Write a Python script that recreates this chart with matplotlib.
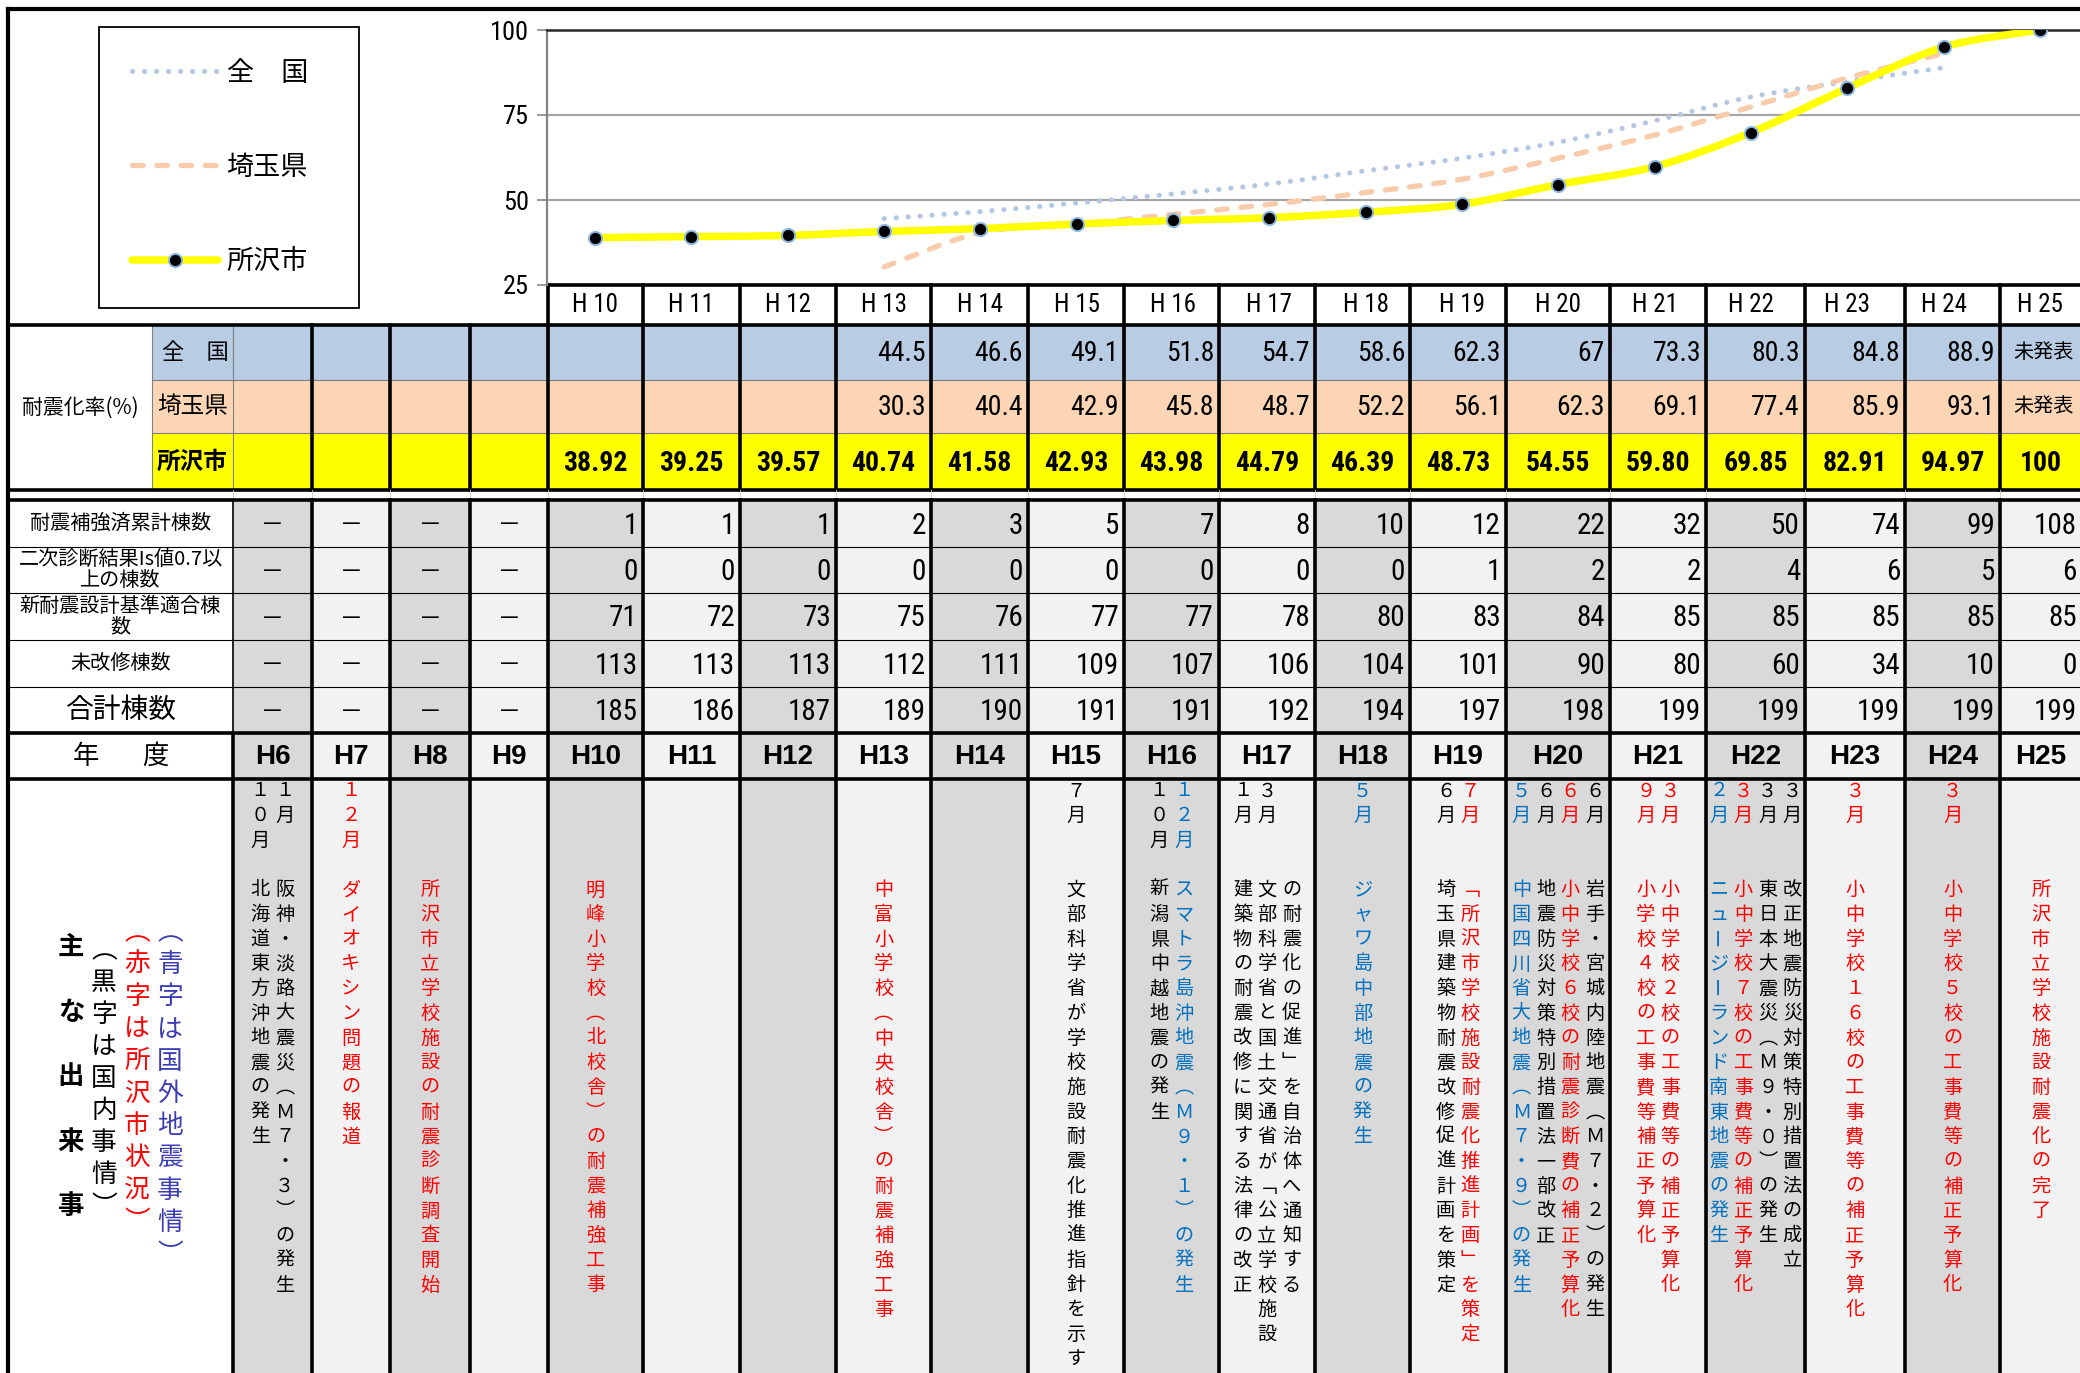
import numpy as np
import matplotlib
matplotlib.use('Agg')
import matplotlib.pyplot as plt
from matplotlib import font_manager as fm
from matplotlib.lines import Line2D
from matplotlib.path import Path
from matplotlib.patches import PathPatch, Rectangle

# ---------------- data ----------------
years = ['H6', 'H7', 'H8', 'H9', 'H10', 'H11', 'H12', 'H13', 'H14', 'H15',
         'H16', 'H17', 'H18', 'H19', 'H20', 'H21', 'H22', 'H23', 'H24', 'H25']
chart_years = ['H 10', 'H 11', 'H 12', 'H 13', 'H 14', 'H 15', 'H 16', 'H 17',
               'H 18', 'H 19', 'H 20', 'H 21', 'H 22', 'H 23', 'H 24', 'H 25']
tokorozawa = [38.92, 39.25, 39.57, 40.74, 41.58, 42.93, 43.98, 44.79,
              46.39, 48.73, 54.55, 59.80, 69.85, 82.91, 94.97, 100]
pref_years = ['H 13', 'H 14', 'H 15', 'H 16', 'H 17', 'H 18', 'H 19', 'H 20',
              'H 21', 'H 22', 'H 23', 'H 24']
zenkoku = [44.5, 46.6, 49.1, 51.8, 54.7, 58.6, 62.3, 67, 73.3, 80.3, 84.8, 88.9]
saitama = [30.3, 40.4, 42.9, 45.8, 48.7, 52.2, 56.1, 62.3, 69.1, 77.4, 85.9, 93.1]
unpublished = '未発表'

retrofit = [1, 1, 1, 2, 3, 5, 7, 8, 10, 12, 22, 32, 50, 74, 99, 108]
is_ok = [0, 0, 0, 0, 0, 0, 0, 0, 0, 1, 2, 2, 4, 6, 5, 6]
new_std = [71, 72, 73, 75, 76, 77, 77, 78, 80, 83, 84, 85, 85, 85, 85, 85]
unrepaired = [113, 113, 113, 112, 111, 109, 107, 106, 104, 101, 90, 80, 60, 34, 10, 0]
total = [185, 186, 187, 189, 190, 191, 191, 192, 194, 197, 198, 199, 199, 199, 199, 199]
row_labels = ['耐震補強済累計棟数', '二次診断結果Is値0.7以\n上の棟数',
              '新耐震設計基準適合棟\n数', '未改修棟数', '合計棟数']
series_labels = ['全　国', '埼玉県', '所沢市']

events = {
    'H6': [('k', '１０月', '北海道東方沖地震の発生'),
           ('k', '１月', '阪神・淡路大震災（Ｍ７．３）の発生')],
    'H7': [('r', '１２月', 'ダイオキシン問題の報道')],
    'H8': [('r', '', '所沢市立学校施設の耐震診断調査開始')],
    'H10': [('r', '', '明峰小学校（北校舎）の耐震補強工事')],
    'H13': [('r', '', '中富小学校（中央校舎）の耐震補強工事')],
    'H15': [('k', '７月', '文部科学省が学校施設耐震化推進指針を示す')],
    'H16': [('k', '１０月', '新潟県中越地震の発生'),
            ('b', '１２月', 'スマトラ島沖地震（Ｍ９．１）の発生')],
    'H17': [('k', '１月', '建築物の耐震改修に関する法律の改正'),
            ('k', '３月', '文部科学省と国土交通省が「公立学校施設'),
            ('k', '', 'の耐震化の促進」を自治体へ通知する')],
    'H18': [('b', '５月', 'ジャワ島中部地震の発生')],
    'H19': [('k', '６月', '埼玉県建築物耐震改修促進計画を策定'),
            ('r', '７月', '「所沢市学校施設耐震化推進計画」を策定')],
    'H20': [('b', '５月', '中国四川省大地震（Ｍ７．９）の発生'),
            ('k', '６月', '地震防災対策特別措置法一部改正'),
            ('r', '６月', '小中学校６校の耐震診断費の補正予算化'),
            ('k', '６月', '岩手・宮城内陸地震（Ｍ７．２）の発生')],
    'H21': [('r', '９月', '小学校４校の工事費等補正予算化'),
            ('r', '３月', '小中学校２校の工事費等の補正予算化')],
    'H22': [('b', '２月', 'ニュージーランド南東地震の発生'),
            ('r', '３月', '小中学校７校の工事費等の補正予算化'),
            ('k', '３月', '東日本大震災（Ｍ９．０）の発生'),
            ('k', '３月', '改正地震防災対策特別措置法の成立')],
    'H23': [('r', '３月', '小中学校１６校の工事費等の補正予算化')],
    'H24': [('r', '３月', '小中学校５校の工事費等の補正予算化')],
    'H25': [('r', '', '所沢市立学校施設耐震化の完了')],
}

# ---------------- fonts ----------------
def has_font(name):
    try:
        fm.findfont(fm.FontProperties(family=name), fallback_to_default=False)
        return True
    except Exception:
        return False

narrow_name = 'Liberation Sans'
for cand in ['Liberation Sans Narrow', 'Roboto Condensed', 'DejaVu Sans Condensed']:
    if has_font(cand):
        narrow_name = cand
        break
JP = ['Noto Sans CJK JP', 'DejaVu Sans']
NARROW = [narrow_name, 'Noto Sans CJK JP']
ARIAL = ['Liberation Sans', 'DejaVu Sans']

# ---------------- colours ----------------
C_ZEN = '#B8CCE4'
C_SAI = '#FCD5B5'
C_TOK = '#FFFF00'
C_ZEN_LINE = '#B3C7E3'
C_SAI_LINE = '#F9CBAA'
GRAY = '#D9D9D9'
LIGHT = '#F2F2F2'
EVCOL = {'k': '#000000', 'r': '#FF0000', 'b': '#0070C0'}

# ---------------- layout (pixels) ----------------
W, H = 2080, 1373
XL = 8
X_LAB = 152
XB = [233, 312, 390, 470, 548, 643, 740, 836, 931, 1028, 1124, 1219, 1315,
      1410, 1506, 1610, 1706, 1805, 1905, 2000, 2082]
Y_TOP = 9
Y_CH_TOP, Y_CH_BOT = 30, 285
Y_HDR = 325
Y_UP = [325, 380, 433, 490]
Y_LO = [500, 547, 593, 640, 687, 733]
Y_YR = 779
THICK = 2.6
THIN = 0.8

fig = plt.figure(figsize=(W / 100, H / 100), dpi=100)
fig.patch.set_facecolor('white')
ax0 = fig.add_axes([0, 0, 1, 1])
ax0.set_xlim(0, W)
ax0.set_ylim(H, 0)
ax0.axis('off')


def rect(x0, y0, x1, y1, color):
    ax0.add_patch(Rectangle((x0, y0), x1 - x0, y1 - y0, facecolor=color,
                            edgecolor='none', zorder=1))


def hline(y, x0, x1, lw, color='black'):
    ax0.add_line(Line2D([x0, x1], [y, y], lw=lw, color=color, zorder=3,
                        solid_capstyle='projecting'))


def vline(x, y0, y1, lw, color='black'):
    ax0.add_line(Line2D([x, x], [y0, y1], lw=lw, color=color, zorder=3,
                        solid_capstyle='projecting'))


ncol = len(years)
cx = [(XB[i] + XB[i + 1]) / 2 for i in range(ncol)]
first_data = years.index('H10')

# ---------- upper table (rates) ----------
rect(X_LAB, Y_UP[0], W + 20, Y_UP[1], C_ZEN)
rect(X_LAB, Y_UP[1], W + 20, Y_UP[2], C_SAI)
rect(X_LAB, Y_UP[2], W + 20, Y_UP[3], C_TOK)
ax0.text((XL + X_LAB) / 2, (Y_UP[0] + Y_UP[3]) / 2, '耐震化率(%)', fontsize=15,
         family=JP, ha='center', va='center', zorder=5)
ax0.text(162, (Y_UP[0] + Y_UP[1]) / 2, series_labels[0], fontsize=16, family=JP,
         ha='left', va='center', zorder=5)
ax0.text(157, (Y_UP[1] + Y_UP[2]) / 2, series_labels[1], fontsize=17, family=JP,
         ha='left', va='center', zorder=5)
ax0.text(157, (Y_UP[2] + Y_UP[3]) / 2, series_labels[2], fontsize=17, family=JP,
         fontweight='bold', ha='left', va='center', zorder=5)

zen_start = years.index('H13')
for k, v in enumerate(zenkoku):
    i = zen_start + k
    ax0.text(XB[i + 1] - 5, (Y_UP[0] + Y_UP[1]) / 2 + 1, f'{v:g}', fontsize=20,
             family=NARROW, ha='right', va='center', zorder=5)
for k, v in enumerate(saitama):
    i = zen_start + k
    ax0.text(XB[i + 1] - 5, (Y_UP[1] + Y_UP[2]) / 2 + 1, f'{v:g}', fontsize=20,
             family=NARROW, ha='right', va='center', zorder=5)
for yy in [(Y_UP[0] + Y_UP[1]) / 2, (Y_UP[1] + Y_UP[2]) / 2]:
    ax0.text(cx[-1] + 3, yy, unpublished, fontsize=14.5, family=JP, ha='center',
             va='center', zorder=5)
for k, v in enumerate(tokorozawa):
    i = first_data + k
    s = '100' if v == 100 else f'{v:.2f}'
    ax0.text(cx[i], (Y_UP[2] + Y_UP[3]) / 2 + 2, s, fontsize=20, family=NARROW,
             fontweight='bold', ha='center', va='center', zorder=5)

hline(Y_UP[1], X_LAB, W + 20, THIN, '#7F7F7F')
hline(Y_UP[2], X_LAB, W + 20, THIN, '#7F7F7F')
vline(X_LAB, Y_UP[0], Y_UP[3], THIN, '#7F7F7F')
vline(XB[0], Y_UP[0], Y_UP[3], THIN, '#7F7F7F')
for x in XB[1:-1]:
    vline(x, Y_UP[0], Y_UP[3], THICK)
hline(Y_UP[0], XL, W + 20, THICK)
hline(Y_UP[3], XL, W + 20, THICK)

# chart header row borders
for x in XB[first_data:-1]:
    vline(x, Y_CH_BOT, Y_HDR, THICK)
hline(Y_CH_BOT, XB[first_data], W + 20, THICK)

# faint gridlines in the gap
for x in XB[:-1]:
    vline(x, Y_UP[3], Y_LO[0], 0.6, '#D0D0D0')

# ---------- lower table (counts) ----------
rows = [retrofit, is_ok, new_std, unrepaired, total]
for i in range(ncol):
    col = GRAY if i % 2 == 0 else LIGHT
    rect(XB[i], Y_LO[0], XB[i + 1] if i < ncol - 1 else W + 20, H + 5, col)
for r, (lab, vals) in enumerate(zip(row_labels, rows)):
    yc = (Y_LO[r] + Y_LO[r + 1]) / 2
    fs = 20 if r == 4 else 14.5
    ax0.text((XL + XB[0]) / 2, yc, lab, fontsize=fs, family=JP, ha='center',
             va='center', linespacing=1.0, zorder=5)
    for i in range(first_data):
        ax0.text(cx[i], yc, '—', fontsize=15, family=JP, ha='center',
                 va='center', zorder=5)
    for k, v in enumerate(vals):
        i = first_data + k
        ax0.text(XB[i + 1] - 5, yc + 2, f'{v}', fontsize=21, family=NARROW,
                 ha='right', va='center', zorder=5)
for y in Y_LO[1:-1]:
    hline(y, XL, W + 20, THIN)
vline(XB[0], Y_LO[0], Y_LO[-1], 1.2)
for x in XB[1:-1]:
    vline(x, Y_LO[0], Y_LO[-1], THICK)
hline(Y_LO[0], XL, W + 20, THICK)
hline(Y_LO[-1], XL, W + 20, THICK)

# ---------- year row ----------
ax0.text(86, (Y_LO[-1] + Y_YR) / 2, '年', fontsize=19, family=JP, ha='center',
         va='center', zorder=5)
ax0.text(155, (Y_LO[-1] + Y_YR) / 2, '度', fontsize=19, family=JP, ha='center',
         va='center', zorder=5)
for i, y in enumerate(years):
    ax0.text(cx[i], (Y_LO[-1] + Y_YR) / 2 + 1, y, fontsize=20, family=ARIAL,
             fontweight='bold', ha='center', va='center', zorder=5)
hline(Y_YR, XL, W + 20, THICK)
for x in XB[:-1]:
    vline(x, Y_LO[-1], H + 5, THICK)

# ---------- events ----------
ROT = set('ー')
# vertical-writing glyph forms for punctuation
SUB = {'．': '・', '（': '︵', '）': '︶', '「': '﹁', '」': '﹂'}
PITCH_Y = 24.7
PITCH_X = 24.5


def vtext(x, y0, s, color, size, pitch, weight='normal'):
    em = size * 100 / 72
    for j, ch in enumerate(s):
        if ch in ' 　':
            continue
        rot = ch in ROT
        ax0.text(x - (0.21 * em if rot else 0), y0 + j * pitch,
                 SUB.get(ch, ch), color=color, fontsize=size,
                 family=JP, fontweight=weight, ha='center', va='center',
                 rotation=-90 if rot else 0, zorder=5)


for yname, cols in events.items():
    i = years.index(yname)
    n = len(cols)
    for j, (c, month, text) in enumerate(cols):
        x = cx[i] + (j - (n - 1) / 2) * PITCH_X
        vtext(x, 791, month, EVCOL[c], 13.8, PITCH_Y)
        vtext(x, 791 + 4 * PITCH_Y, text, EVCOL[c], 13.8, PITCH_Y)

vtext(71, 947, '主　な　出　来　事', 'black', 19, 32.5, 'bold')
vtext(104, 951, '（黒字は国内事情）', 'black', 18.5, 32.0)
vtext(137, 933, '（赤字は所沢市状況）', '#FF0000', 18.5, 32.1)
vtext(170, 933, '（青字は国外地震事情）', '#3C3CB4', 18.5, 32.2)

# ---------- outer frame ----------
hline(Y_TOP, XL, W + 20, THICK + 0.4)
vline(XL, Y_TOP, H + 5, THICK + 0.4)

# ---------------- chart ----------------
ax_l, ax_r = 547, 2088
ax = fig.add_axes([ax_l / W, (H - Y_CH_BOT) / H, (ax_r - ax_l) / W,
                   (Y_CH_BOT - Y_CH_TOP) / H])
ax.set_facecolor('none')
ax.set_zorder(2)
ax.set_xlim(-0.5, len(chart_years) - 0.5)
ax.set_ylim(25, 100)
ax.set_yticks([25, 50, 75, 100])
ax.set_xticks(range(len(chart_years)))
ax.set_xticklabels(chart_years, family=NARROW, fontsize=18)
ax.tick_params(axis='x', length=0, pad=6)
ax.tick_params(axis='y', length=7, width=1.2, color='#868686', pad=6,
               labelsize=19)
for lab in ax.get_yticklabels():
    lab.set_family(NARROW)
for yv in [50, 75]:
    ax.axhline(yv, color='#A6A6A6', lw=1.6, zorder=1)
ax.spines['top'].set_color('#262626')
ax.spines['top'].set_linewidth(1.8)
ax.spines['left'].set_color('#868686')
ax.spines['left'].set_linewidth(1.6)
ax.spines['right'].set_visible(False)
ax.spines['bottom'].set_visible(False)


def smooth_path(xs, ys):
    pts = np.column_stack([xs, ys]).astype(float)
    n = len(pts)
    verts = [pts[0]]
    codes = [Path.MOVETO]
    for i in range(n - 1):
        p0 = pts[i - 1] if i > 0 else pts[i]
        p1, p2 = pts[i], pts[i + 1]
        p3 = pts[i + 2] if i + 2 < n else pts[i + 1]
        verts += [p1 + (p2 - p0) / 6, p2 - (p3 - p1) / 6, p2]
        codes += [Path.CURVE4] * 3
    return Path(verts, codes)


xi_all = np.arange(len(chart_years))
xi_pref = np.array([chart_years.index(y) for y in pref_years])

zen_style = (0, (0.05, 2.35))
sai_style = (0, (2.0, 2.6))
MS = 9.5
ax.add_patch(PathPatch(smooth_path(xi_pref, zenkoku), fill=False,
                       edgecolor=C_ZEN_LINE, lw=3.6, linestyle=zen_style,
                       capstyle='round', zorder=3))
ax.add_patch(PathPatch(smooth_path(xi_pref, saitama), fill=False,
                       edgecolor=C_SAI_LINE, lw=3.8, linestyle=sai_style,
                       capstyle='round', zorder=3))
ax.add_patch(PathPatch(smooth_path(xi_all, tokorozawa), fill=False,
                       edgecolor=C_TOK, lw=5.4, capstyle='round',
                       joinstyle='round', zorder=4))
ax.plot(xi_all, tokorozawa, linestyle='none', marker='o', ms=MS, mfc='black',
        mec='#8DB8E0', mew=1.4, zorder=5)

handles = [
    Line2D([], [], color=C_ZEN_LINE, lw=3.6, linestyle=zen_style,
           dash_capstyle='round'),
    Line2D([], [], color=C_SAI_LINE, lw=3.8, linestyle=sai_style,
           dash_capstyle='round'),
    Line2D([], [], color=C_TOK, lw=5.4, solid_capstyle='round', marker='o',
           ms=MS, mfc='black', mec='#8DB8E0', mew=1.4),
]
leg = fig.legend(handles, series_labels, loc='upper left',
                 bbox_to_anchor=(99 / W, 1 - 308 / H, 260 / W, 281 / H),
                 bbox_transform=fig.transFigure, mode='expand', frameon=True,
                 fancybox=False, edgecolor='black', framealpha=1,
                 prop=fm.FontProperties(family='Noto Sans CJK JP', size=19.5),
                 handlelength=3.2, handletextpad=0.3, labelspacing=2.48,
                 borderpad=1.21, borderaxespad=0, numpoints=1)
leg.get_frame().set_linewidth(1.3)
leg.set_zorder(10)

fig.savefig('out.png', dpi=100)
